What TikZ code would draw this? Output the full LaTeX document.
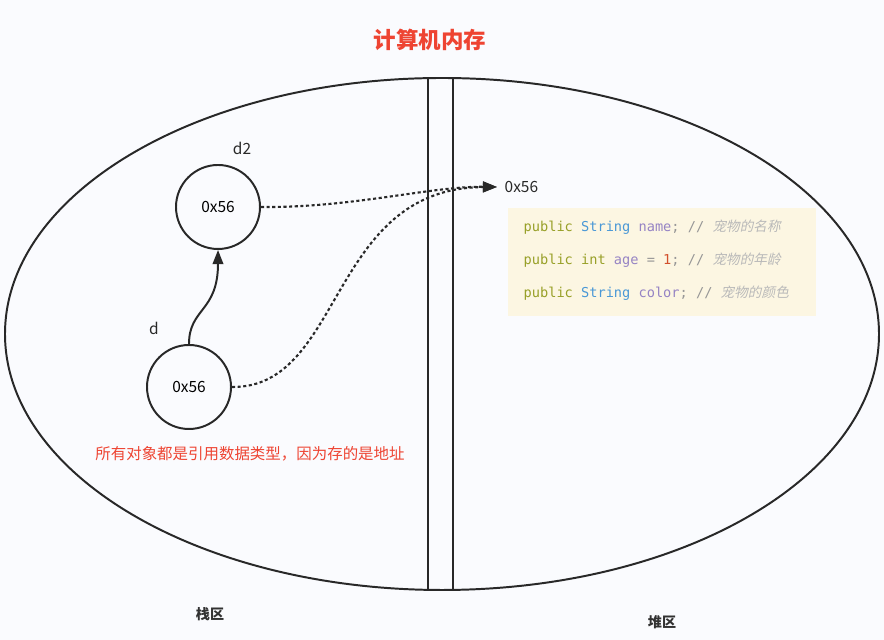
\documentclass[tikz,border=0pt]{standalone}
\usepackage{fontspec}
\setmainfont{Noto Sans CJK SC}
\newfontfamily\codefont{DejaVu Sans Mono}
\newfontfamily\notefont[FakeSlant=0.2]{Noto Sans CJK SC}
\usetikzlibrary{arrows.meta}
\definecolor{pagebg}{RGB}{250,251,254}
\definecolor{titlered}{RGB}{238,68,50}
\definecolor{codebg}{RGB}{252,246,226}
\definecolor{kwolive}{RGB}{152,160,40}
\definecolor{kwblue}{RGB}{74,152,214}
\definecolor{kwpurple}{RGB}{150,132,196}
\definecolor{kwnum}{RGB}{210,80,44}
\definecolor{kwgray}{RGB}{150,150,150}
\definecolor{notegray}{RGB}{185,185,185}
\newcommand{\codeline}[3]{{\codefont\color{kwolive}public \color{#1}#2}{\codefont\color{kwgray}// }{\notefont\color{notegray}#3}}

\begin{document}
\begin{tikzpicture}[
    line width=1.4pt, draw={rgb,255:red,40;green,40;blue,40},
    refbox/.style={circle, draw, minimum size=2.1cm, inner sep=0pt, font=\fontsize{11}{13}\selectfont},
    label/.style={font=\fontsize{11}{13}\selectfont, text={rgb,255:red,40;green,40;blue,40}},
    arealabel/.style={font=\bfseries\fontsize{10}{12}\selectfont, text={rgb,255:red,50;green,50;blue,50}},
    pointer/.style={dash pattern=on 2.2pt off 1.8pt, line width=1.5pt, -{Triangle[length=10pt,width=7.5pt]}},
    codetext/.style={anchor=west, font=\fontsize{9.7}{11}\selectfont}
  ]
            \useasboundingbox[fill=pagebg] (0,0) rectangle (22.1,16);
            \coordinate (M) at (11.05,7.65);
            \coordinate (T) at (12.425,11.325);
            \draw (M) ellipse [x radius=10.925, y radius=6.4];
            \draw (10.7,14.05) rectangle (11.325,1.25);
            \node at (10.75,15.0) [font=\bfseries\fontsize{16}{18}\selectfont, text=titlered] {计算机内存};
            \node (d2) at (5.45,10.825) [refbox] {0x56};
            \node (d) at (4.725,6.325) [refbox] {0x56};
            \node at (6.05,12.3) [label] {d2};
            \node at (3.85,7.8) [label] {d};
            \node (addr) at (T) [label, anchor=west, xshift=0.05cm] {0x56};
            \draw[-{Triangle[length=10pt,width=7.5pt]}] (d.north) .. controls (4.725,8.3) and (5.45,8.2) .. (d2.south);
            \draw[pointer] (d2.east) .. controls (8.8,10.8) and (10.8,11.35) .. (T);
            \draw[pointer] (d.east) .. controls (8.6,6.3) and (8.2,11.3) .. (T);
            \fill[codebg] (12.7,10.8) rectangle (20.4,8.1);
            \node at (12.95,10.325) [codetext] {\codeline{kwblue}{String \color{kwpurple}name\color{kwgray}; }{宠物的名称}};
            \node at (12.95,9.5) [codetext] {\codeline{kwolive}{int \color{kwpurple}age \color{kwgray}= \color{kwnum}1\color{kwgray}; }{宠物的年龄}};
            \node at (12.95,8.675) [codetext] {\codeline{kwblue}{String \color{kwpurple}color\color{kwgray}; }{宠物的颜色}};
            \node at (6.25,4.65) [font=\fontsize{11}{13}\selectfont, text=titlered] {所有对象都是引用数据类型，因为存的是地址};
            \node at (5.25,0.65) [arealabel] {栈区};
            \node at (16.55,0.45) [arealabel] {堆区};
        \end{tikzpicture}
\end{document}
